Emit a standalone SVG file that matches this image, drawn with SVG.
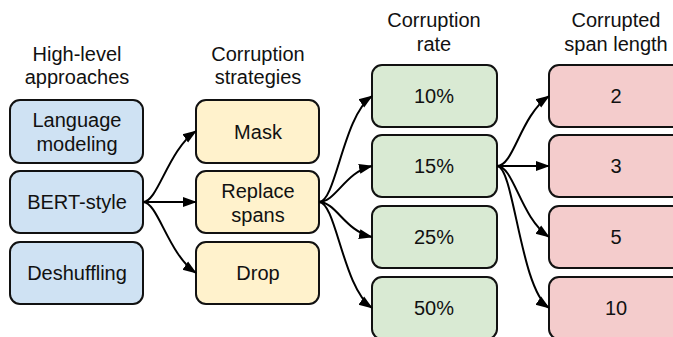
<svg xmlns="http://www.w3.org/2000/svg" width="673" height="337" viewBox="0 0 673 337">
<style>
text{font-family:"Liberation Sans",Arial,sans-serif;font-size:20px;fill:#111;text-anchor:middle}
.box{stroke:#111;stroke-width:2}
.b{fill:#cfe2f3}.y{fill:#fff2cc}.g{fill:#d9ead3}.r{fill:#f4cccc}
.c{fill:none;stroke:#000;stroke-width:2;marker-end:url(#ah)}
</style>
<defs>
<marker id="ah" markerUnits="userSpaceOnUse" markerWidth="14" markerHeight="12" refX="13" refY="5" orient="auto" viewBox="0 0 14 10">
<path d="M0,0 L14,5 L0,10 z" fill="#000"/>
</marker>
</defs>
<g id="headers">
<text x="77" y="61">High-level</text><text x="77" y="84">approaches</text>
<text x="258" y="61">Corruption</text><text x="258" y="84">strategies</text>
<text x="434" y="27">Corruption</text><text x="434" y="51">rate</text>
<text x="616" y="27">Corrupted</text><text x="616" y="51">span length</text>
</g>
<g id="lm"><rect class="box b" x="10" y="100" width="133" height="63" rx="10"/><text x="77" y="127">Language</text><text x="77" y="151">modeling</text></g>
<g id="bert"><rect class="box b" x="10" y="171" width="133" height="62" rx="10"/><text x="77" y="209">BERT-style</text></g>
<g id="desh"><rect class="box b" x="10" y="242" width="133" height="62" rx="10"/><text x="77" y="280">Deshuffling</text></g>
<g id="mask"><rect class="box y" x="196" y="100" width="123" height="63" rx="10"/><text x="258" y="139">Mask</text></g>
<g id="replace"><rect class="box y" x="196" y="171" width="123" height="62" rx="10"/><text x="258" y="198">Replace</text><text x="258" y="222">spans</text></g>
<g id="drop"><rect class="box y" x="196" y="242" width="123" height="62" rx="10"/><text x="258" y="280">Drop</text></g>
<g id="r10"><rect class="box g" x="372" y="65" width="125" height="62" rx="10"/><text x="434" y="103">10%</text></g>
<g id="r15"><rect class="box g" x="372" y="135" width="125" height="62" rx="10"/><text x="434" y="173">15%</text></g>
<g id="r25"><rect class="box g" x="372" y="206" width="125" height="62" rx="10"/><text x="434" y="244">25%</text></g>
<g id="r50"><rect class="box g" x="372" y="277" width="125" height="62" rx="10"/><text x="434" y="315">50%</text></g>
<g id="s2"><rect class="box r" x="549" y="65" width="140" height="62" rx="10"/><text x="616" y="103">2</text></g>
<g id="s3"><rect class="box r" x="549" y="135" width="140" height="62" rx="10"/><text x="616" y="173">3</text></g>
<g id="s5"><rect class="box r" x="549" y="206" width="140" height="62" rx="10"/><text x="616" y="244">5</text></g>
<g id="s10"><rect class="box r" x="549" y="277" width="140" height="62" rx="10"/><text x="616" y="315">10</text></g>
<g id="connectors">
<path class="c" d="M143,202 C158,202 168,150 196,131"/>
<path class="c" d="M143,202 L196,202"/>
<path class="c" d="M143,202 C158,202 168,254 196,273"/>
<path class="c" d="M319,202 C336,202 343,116 372,96"/>
<path class="c" d="M319,202 C336,202 345,172 372,166"/>
<path class="c" d="M319,202 C336,202 345,231 372,237"/>
<path class="c" d="M319,202 C336,202 343,288 372,308"/>
<path class="c" d="M497,166 C514,166 520,116 549,96"/>
<path class="c" d="M497,166 L549,166"/>
<path class="c" d="M497,166 C514,166 520,217 549,237"/>
<path class="c" d="M497,166 C514,166 520,288 549,308"/>
</g>
</svg>
